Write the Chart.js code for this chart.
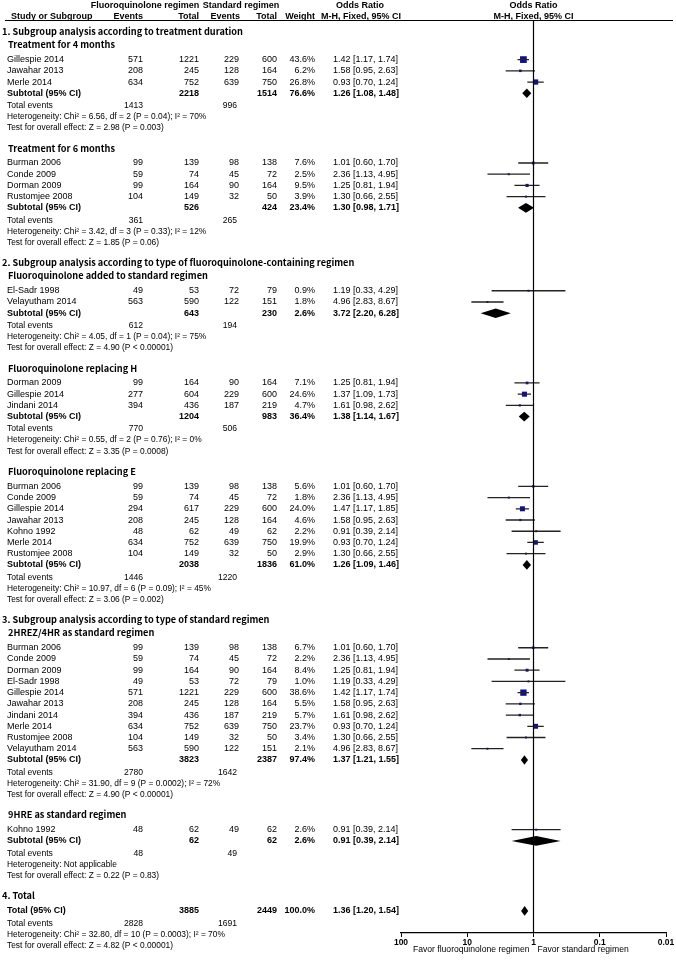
<!DOCTYPE html>
<html>
<head>
<meta charset="utf-8">
<title>Fluoroquinolone regimen vs standard regimen - forest plot</title>
<script src="https://cdn.jsdelivr.net/npm/chart.js@4.4.1/dist/chart.umd.min.js"></script>
<style>
    html, body { margin: 0; padding: 0; background: #fff; }
    #wrap { width: 676px; height: 960px; position: relative; }
</style>
</head>
<body>
<div id="wrap"><canvas id="forestChart"></canvas></div>
<script>
// study rows: name, FQ events, FQ total, standard events, standard total, weight %, OR, lower, upper
const dur4Studies = [
    ["Gillespie 2014", 571, 1221, 229, 600, 43.6, 1.42, 1.17, 1.74],
    ["Jawahar 2013", 208, 245, 128, 164, 6.2, 1.58, 0.95, 2.63],
    ["Merle 2014", 634, 752, 639, 750, 26.8, 0.93, 0.70, 1.24]
];
const dur4Subtotal = [2218, 1514, 76.6, 1.26, 1.08, 1.48];
const dur4Events = [1413, 996];
const dur4Tests = ["Heterogeneity: Chi\u00b2 = 6.56, df = 2 (P = 0.04); I\u00b2 = 70%", "Test for overall effect: Z = 2.98 (P = 0.003)"];

const dur6Studies = [
    ["Burman 2006", 99, 139, 98, 138, 7.6, 1.01, 0.60, 1.70],
    ["Conde 2009", 59, 74, 45, 72, 2.5, 2.36, 1.13, 4.95],
    ["Dorman 2009", 99, 164, 90, 164, 9.5, 1.25, 0.81, 1.94],
    ["Rustomjee 2008", 104, 149, 32, 50, 3.9, 1.30, 0.66, 2.55]
];
const dur6Subtotal = [526, 424, 23.4, 1.30, 0.98, 1.71];
const dur6Events = [361, 265];
const dur6Tests = ["Heterogeneity: Chi\u00b2 = 3.42, df = 3 (P = 0.33); I\u00b2 = 12%", "Test for overall effect: Z = 1.85 (P = 0.06)"];

const addedStudies = [
    ["El-Sadr 1998", 49, 53, 72, 79, 0.9, 1.19, 0.33, 4.29],
    ["Velayutham 2014", 563, 590, 122, 151, 1.8, 4.96, 2.83, 8.67]
];
const addedSubtotal = [643, 230, 2.6, 3.72, 2.20, 6.28];
const addedEvents = [612, 194];
const addedTests = ["Heterogeneity: Chi\u00b2 = 4.05, df = 1 (P = 0.04); I\u00b2 = 75%", "Test for overall effect: Z = 4.90 (P < 0.00001)"];

const replHStudies = [
    ["Dorman 2009", 99, 164, 90, 164, 7.1, 1.25, 0.81, 1.94],
    ["Gillespie 2014", 277, 604, 229, 600, 24.6, 1.37, 1.09, 1.73],
    ["Jindani 2014", 394, 436, 187, 219, 4.7, 1.61, 0.98, 2.62]
];
const replHSubtotal = [1204, 983, 36.4, 1.38, 1.14, 1.67];
const replHEvents = [770, 506];
const replHTests = ["Heterogeneity: Chi\u00b2 = 0.55, df = 2 (P = 0.76); I\u00b2 = 0%", "Test for overall effect: Z = 3.35 (P = 0.0008)"];

const replEStudies = [
    ["Burman 2006", 99, 139, 98, 138, 5.6, 1.01, 0.60, 1.70],
    ["Conde 2009", 59, 74, 45, 72, 1.8, 2.36, 1.13, 4.95],
    ["Gillespie 2014", 294, 617, 229, 600, 24.0, 1.47, 1.17, 1.85],
    ["Jawahar 2013", 208, 245, 128, 164, 4.6, 1.58, 0.95, 2.63],
    ["Kohno 1992", 48, 62, 49, 62, 2.2, 0.91, 0.39, 2.14],
    ["Merle 2014", 634, 752, 639, 750, 19.9, 0.93, 0.70, 1.24],
    ["Rustomjee 2008", 104, 149, 32, 50, 2.9, 1.30, 0.66, 2.55]
];
const replESubtotal = [2038, 1836, 61.0, 1.26, 1.09, 1.46];
const replEEvents = [1446, 1220];
const replETests = ["Heterogeneity: Chi\u00b2 = 10.97, df = 6 (P = 0.09); I\u00b2 = 45%", "Test for overall effect: Z = 3.06 (P = 0.002)"];

const hrezStudies = [
    ["Burman 2006", 99, 139, 98, 138, 6.7, 1.01, 0.60, 1.70],
    ["Conde 2009", 59, 74, 45, 72, 2.2, 2.36, 1.13, 4.95],
    ["Dorman 2009", 99, 164, 90, 164, 8.4, 1.25, 0.81, 1.94],
    ["El-Sadr 1998", 49, 53, 72, 79, 1.0, 1.19, 0.33, 4.29],
    ["Gillespie 2014", 571, 1221, 229, 600, 38.6, 1.42, 1.17, 1.74],
    ["Jawahar 2013", 208, 245, 128, 164, 5.5, 1.58, 0.95, 2.63],
    ["Jindani 2014", 394, 436, 187, 219, 5.7, 1.61, 0.98, 2.62],
    ["Merle 2014", 634, 752, 639, 750, 23.7, 0.93, 0.70, 1.24],
    ["Rustomjee 2008", 104, 149, 32, 50, 3.4, 1.30, 0.66, 2.55],
    ["Velayutham 2014", 563, 590, 122, 151, 2.1, 4.96, 2.83, 8.67]
];
const hrezSubtotal = [3823, 2387, 97.4, 1.37, 1.21, 1.55];
const hrezEvents = [2780, 1642];
const hrezTests = ["Heterogeneity: Chi\u00b2 = 31.90, df = 9 (P = 0.0002); I\u00b2 = 72%", "Test for overall effect: Z = 4.90 (P < 0.00001)"];

const hreStudies = [
    ["Kohno 1992", 48, 62, 49, 62, 2.6, 0.91, 0.39, 2.14]
];
const hreSubtotal = [62, 62, 2.6, 0.91, 0.39, 2.14];
const hreEvents = [48, 49];
const hreTests = ["Heterogeneity: Not applicable", "Test for overall effect: Z = 0.22 (P = 0.83)"];

const totalSubtotal = [3885, 2449, 100.0, 1.36, 1.20, 1.54];
const totalEvents = [2828, 1691];
const totalTests = ["Heterogeneity: Chi\u00b2 = 32.80, df = 10 (P = 0.0003); I\u00b2 = 70%", "Test for overall effect: Z = 4.82 (P < 0.00001)"];

const axisTicks = [100, 10, 1, 0.1, 0.01];
const favourLabels = ["Favor fluoroquinolone regimen", "Favor standard regimen"];

const sections = [
    {
        title: "1. Subgroup analysis according to treatment duration",
        groups: [
            { title: "Treatment for 4 months", studies: dur4Studies, subtotal: dur4Subtotal, events: dur4Events, tests: dur4Tests },
            { title: "Treatment for 6 months", studies: dur6Studies, subtotal: dur6Subtotal, events: dur6Events, tests: dur6Tests }
        ]
    },
    {
        title: "2. Subgroup analysis according to type of fluoroquinolone-containing regimen",
        groups: [
            { title: "Fluoroquinolone added to standard regimen", studies: addedStudies, subtotal: addedSubtotal, events: addedEvents, tests: addedTests },
            { title: "Fluoroquinolone replacing H", studies: replHStudies, subtotal: replHSubtotal, events: replHEvents, tests: replHTests },
            { title: "Fluoroquinolone replacing E", studies: replEStudies, subtotal: replESubtotal, events: replEEvents, tests: replETests }
        ]
    },
    {
        title: "3. Subgroup analysis according to type of standard regimen",
        groups: [
            { title: "2HREZ/4HR as standard regimen", studies: hrezStudies, subtotal: hrezSubtotal, events: hrezEvents, tests: hrezTests },
            { title: "9HRE as standard regimen", studies: hreStudies, subtotal: hreSubtotal, events: hreEvents, tests: hreTests }
        ]
    },
    {
        title: "4. Total",
        groups: [
            { title: null, studies: [], subtotal: totalSubtotal, events: totalEvents, tests: totalTests, label: "Total (95% CI)" }
        ]
    }
];

// row layout in "row units" along the y scale
const Y_MAX = 81.4;
const GAP_SECTION = 1.81;
const GAP_GROUP = 1.79;
const GAP_AFTER_SECTION = 1.15;
const GAP_FIRST = 1.33;
const GAP_EVENTS = 1.1;

const rows = [];
let pos = 1.05;

sections.forEach((sec, si) => {
    if (si > 0) pos += GAP_SECTION;
    rows.push({ kind: "section", y: pos, text: sec.title });

    sec.groups.forEach((g, gi) => {
        if (g.title) {
            pos += gi === 0 ? GAP_AFTER_SECTION : GAP_GROUP;
            rows.push({ kind: "group", y: pos, text: g.title });
        }
        pos += GAP_FIRST;
        g.studies.forEach((s, i) => {
            if (i > 0) pos += 1;
            rows.push({
                kind: "study", y: pos, name: s[0],
                fqEv: s[1], fqTot: s[2], stEv: s[3], stTot: s[4],
                weight: s[5], or: s[6], lo: s[7], hi: s[8]
            });
        });
        if (g.studies.length) pos += 1;
        const st = g.subtotal;
        rows.push({
            kind: "subtotal", y: pos, name: g.label || "Subtotal (95% CI)",
            fqTot: st[0], stTot: st[1], weight: st[2], or: st[3], lo: st[4], hi: st[5]
        });
        pos += GAP_EVENTS;
        rows.push({ kind: "events", y: pos, fqEv: g.events[0], stEv: g.events[1] });
        pos += 1;
        rows.push({ kind: "note", y: pos, text: g.tests[0] });
        pos += 1;
        rows.push({ kind: "note", y: pos, text: g.tests[1] });
    });
});

const studyRows = rows.filter(r => r.kind === "study");
const subtotalRows = rows.filter(r => r.kind === "subtotal");

const ciData = [];
studyRows.forEach(r => {
    ciData.push({ x: r.lo, y: r.y }, { x: r.hi, y: r.y }, { x: null, y: null });
});

const squareData = studyRows.map(r => ({ x: r.or, y: r.y, w: r.weight }));

const TEXT = "#000";
const DATA_FONT = "Arial, 'Liberation Sans', sans-serif";
const HEAD_FONT = "'Noto Sans CJK KR', 'Noto Sans', sans-serif";

const COL = { name: 7, fqEv: 143, fqTot: 199, stEv: 239, stTot: 277, weight: 315, or: 333 };

function fmtOR(r) {
    return r.or.toFixed(2) + " [" + r.lo.toFixed(2) + ", " + r.hi.toFixed(2) + "]";
}

const tablePlugin = {
    id: "forestTable",
    afterDatasetsDraw(chart) {
        const ctx = chart.ctx;
        const xs = chart.scales.x;
        const ys = chart.scales.y;

        // subtotal diamonds
        ctx.save();
        ctx.fillStyle = "#000";
        subtotalRows.forEach(r => {
            const yp = ys.getPixelForValue(r.y);
            const xl = xs.getPixelForValue(r.lo);
            const xm = xs.getPixelForValue(r.or);
            const xh = xs.getPixelForValue(r.hi);
            const h = 4.8;
            ctx.beginPath();
            ctx.moveTo(xl, yp);
            ctx.lineTo(xm, yp - h);
            ctx.lineTo(xh, yp);
            ctx.lineTo(xm, yp + h);
            ctx.closePath();
            ctx.fill();
        });
        ctx.restore();
    },
    afterDraw(chart) {
        const ctx = chart.ctx;
        const ys = chart.scales.y;
        const xs = chart.scales.x;

        ctx.save();
        ctx.fillStyle = TEXT;
        ctx.textBaseline = "middle";

        function txt(s, x, y, align, font) {
            ctx.font = font;
            ctx.textAlign = align;
            ctx.fillText(s, x, y);
        }

        // column headers
        const hf = "bold 9px " + DATA_FONT;
        txt("Fluoroquinolone regimen", 145, 6, "center", hf);
        txt("Standard regimen", 241, 6, "center", hf);
        txt("Odds Ratio", 360, 6, "center", hf);
        txt("Odds Ratio", xs.getPixelForValue(1), 6, "center", hf);
        txt("Study or Subgroup", 11, 17, "left", hf);
        txt("Events", COL.fqEv, 17, "right", hf);
        txt("Total", COL.fqTot, 17, "right", hf);
        txt("Events", COL.stEv + 1, 17, "right", hf);
        txt("Total", COL.stTot, 17, "right", hf);
        txt("Weight", COL.weight, 17, "right", hf);
        txt("M-H, Fixed, 95% CI", 361, 17, "center", hf);
        txt("M-H, Fixed, 95% CI", xs.getPixelForValue(1), 17, "center", hf);

        ctx.strokeStyle = "#000";
        ctx.lineWidth = 1;
        ctx.beginPath();
        ctx.moveTo(5, 20.5);
        ctx.lineTo(673, 20.5);
        ctx.stroke();

        rows.forEach(r => {
            const y = ys.getPixelForValue(r.y);
            if (r.kind === "section") {
                txt(r.text, 2, y, "left", "bold 9.2px " + HEAD_FONT);
            } else if (r.kind === "group") {
                txt(r.text, 8, y, "left", "bold 9.2px " + HEAD_FONT);
            } else if (r.kind === "study") {
                const f = "9px " + DATA_FONT;
                txt(r.name, COL.name, y, "left", f);
                txt(String(r.fqEv), COL.fqEv, y, "right", f);
                txt(String(r.fqTot), COL.fqTot, y, "right", f);
                txt(String(r.stEv), COL.stEv, y, "right", f);
                txt(String(r.stTot), COL.stTot, y, "right", f);
                txt(r.weight.toFixed(1) + "%", COL.weight, y, "right", f);
                txt(fmtOR(r), COL.or, y, "left", f);
            } else if (r.kind === "subtotal") {
                const f = "bold 9px " + DATA_FONT;
                txt(r.name, COL.name, y, "left", f);
                txt(String(r.fqTot), COL.fqTot, y, "right", f);
                txt(String(r.stTot), COL.stTot, y, "right", f);
                txt(r.weight.toFixed(1) + "%", COL.weight, y, "right", f);
                txt(fmtOR(r), COL.or, y, "left", f);
            } else if (r.kind === "events") {
                const f = "8.6px " + DATA_FONT;
                txt("Total events", COL.name, y, "left", f);
                txt(String(r.fqEv), COL.fqEv, y, "right", f);
                txt(String(r.stEv), COL.stEv - 2, y, "right", f);
            } else {
                txt(r.text, COL.name, y, "left", "8.4px " + DATA_FONT);
            }
        });

        // favour labels under the axis
        const x1 = xs.getPixelForValue(1);
        const fy = chart.chartArea.bottom + 17;
        txt(favourLabels[0], x1 - 4, fy, "right", "8.6px " + DATA_FONT);
        txt(favourLabels[1], x1 + 4, fy, "left", "8.6px " + DATA_FONT);

        ctx.restore();
    }
};

const ctx = document.getElementById("forestChart").getContext("2d");

const forestChart = new Chart(ctx, {

    type: "scatter",

    data: {
        datasets: [
            {
                label: "No effect",
                data: [{ x: 1, y: 0 }, { x: 1, y: Y_MAX }],
                showLine: true,
                borderColor: "#000",
                borderWidth: 1.2,
                pointRadius: 0
            },
            {
                label: "95% CI",
                data: ciData,
                showLine: true,
                spanGaps: false,
                borderColor: "#222",
                borderWidth: 1.3,
                pointRadius: 0
            },
            {
                label: "Odds ratio",
                data: squareData,
                pointStyle: "rect",
                pointRadius: c => Math.max(1.4, 0.72 * Math.sqrt(c.raw.w)),
                backgroundColor: "#10108c",
                borderWidth: 0
            }
        ]
    },

    plugins: [tablePlugin],

    options: {
        responsive: true,
        maintainAspectRatio: false,
        animation: false,
        layout: {
            padding: { left: 401, right: 10, top: 20, bottom: 0 }
        },
        plugins: {
            legend: { display: false },
            tooltip: { enabled: false }
        },
        scales: {
            x: {
                type: "logarithmic",
                position: "bottom",
                reverse: true,
                min: 0.01,
                max: 100,
                afterBuildTicks: scale => {
                    scale.ticks = axisTicks.map(v => ({ value: v }));
                },
                afterFit: scale => {
                    scale.height = 27;
                },
                ticks: {
                    autoSkip: false,
                    maxRotation: 0,
                    padding: 1,
                    color: TEXT,
                    font: { family: DATA_FONT, size: 8.5, weight: "bold" },
                    callback: v => String(v)
                },
                grid: {
                    drawOnChartArea: false,
                    drawTicks: true,
                    tickLength: 4,
                    color: "#000"
                },
                border: { display: true, color: "#000", width: 1.3 }
            },
            y: {
                type: "linear",
                display: false,
                reverse: true,
                min: 0,
                max: Y_MAX
            }
        }
    }
});
</script>
</body>
</html>
